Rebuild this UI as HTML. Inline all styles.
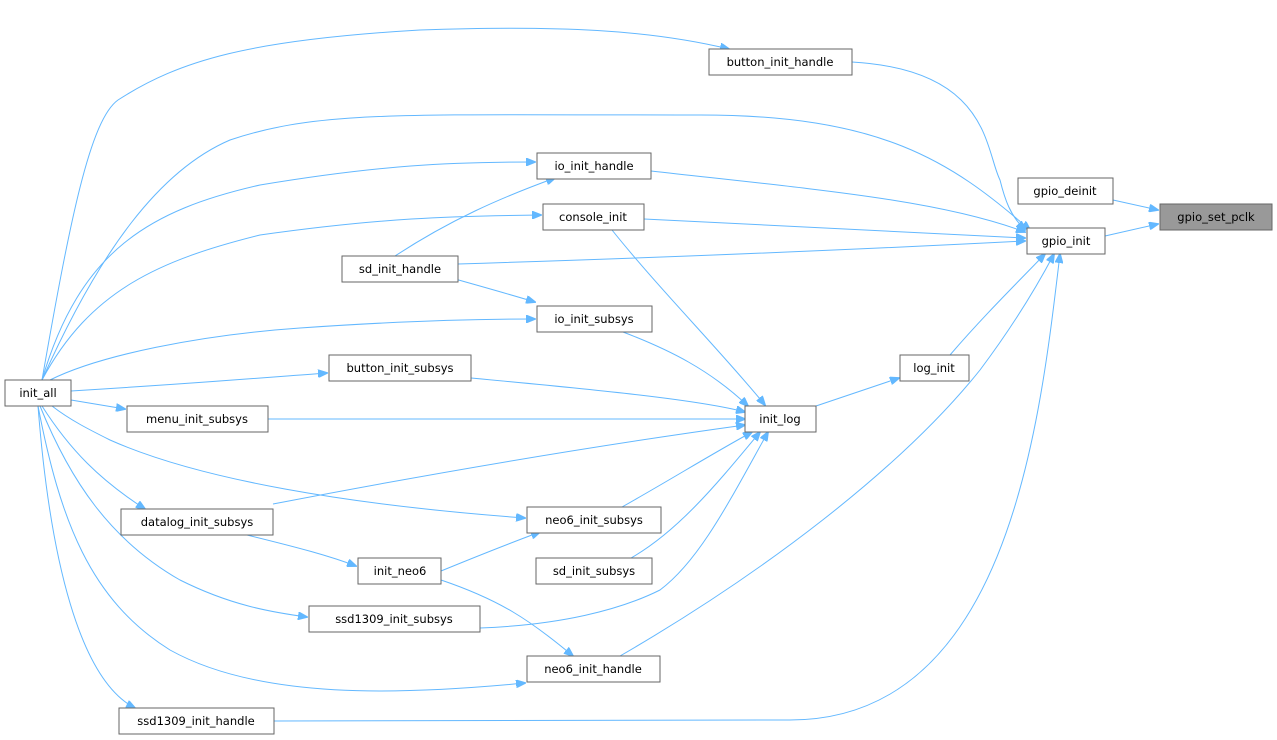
<!DOCTYPE html>
<html><head><meta charset="utf-8"><style>
html,body{margin:0;padding:0;background:#fff;}
svg{display:block;}
text{font-family:"DejaVu Sans","Liberation Sans",sans-serif;font-size:11.5px;fill:#000;}
.n{fill:#fff;stroke:#666;stroke-width:1;}
.e{fill:none;stroke:#63b8ff;stroke-width:1;}
</style></head><body>
<svg width="1277" height="740" viewBox="0 0 1277 740" xmlns="http://www.w3.org/2000/svg">
<defs><marker id="a" markerWidth="10" markerHeight="8" refX="9" refY="4" orient="auto" markerUnits="userSpaceOnUse"><path d="M0,0 L10,4 L0,8 z" fill="#63b8ff" stroke="#63b8ff"/></marker></defs>
<g class="e" marker-end="url(#a)">
<path d="M1113,200 L1158,210"/>
<path d="M1105,236 L1158,224"/>
<path d="M852,62 C990,70 985,150 1000,180 C1005,200 1010,215 1025,230"/>
<path d="M42,380 C70,220 90,120 118,100 C180,60 250,40 420,30 C560,25 650,30 729,49"/>
<path d="M42,380 C100,250 160,170 230,140 C320,110 400,115 700,115 C880,115 950,160 1030,230"/>
<path d="M651,171 C820,190 940,200 1025,232"/>
<path d="M644,219 C800,226 920,232 1025,238"/>
<path d="M458,264 C650,258 850,250 1025,241"/>
<path d="M950,355 C980,320 1010,290 1045,254"/>
<path d="M620,656 C760,575 900,470 980,370 C1010,330 1035,290 1054,254"/>
<path d="M274,721 C500,720 700,720 790,720 C1010,720 1040,420 1060,254"/>
<path d="M816,406 L899,378"/>
<path d="M42,380 C80,250 150,210 260,185 C380,165 450,162 535,162"/>
<path d="M395,256 C450,220 500,198 555,178"/>
<path d="M42,380 C90,290 160,260 260,235 C380,218 450,216 541,215"/>
<path d="M455,279 C480,286 505,293 535,302"/>
<path d="M50,380 C100,355 200,335 300,328 C400,321 470,319 535,319"/>
<path d="M612,230 C660,290 720,350 765,405"/>
<path d="M623,332 C670,350 710,370 748,406"/>
<path d="M471,378 C600,390 700,400 745,412"/>
<path d="M268,419 L745,419"/>
<path d="M273,504 C450,470 600,445 745,425"/>
<path d="M622,507 C670,480 710,455 752,432"/>
<path d="M631,558 C680,530 720,480 760,432"/>
<path d="M480,628 C560,625 620,610 660,590 C700,560 730,500 768,432"/>
<path d="M71,391 C200,383 260,378 327,373"/>
<path d="M71,400 L125,409"/>
<path d="M42,406 C70,450 100,480 145,509"/>
<path d="M52,406 C70,420 90,430 110,440 C200,480 350,505 525,518"/>
<path d="M40,406 C70,480 110,540 180,580 C230,605 270,612 307,617"/>
<path d="M38,406 C60,520 90,600 170,650 C260,700 400,695 525,683"/>
<path d="M38,406 C50,560 80,680 135,708"/>
<path d="M247,535 C300,548 330,556 356,566"/>
<path d="M441,571 C480,555 505,545 540,532"/>
<path d="M441,580 C500,600 530,620 573,656"/>
</g>
<g>
<rect x="1160" y="204" width="112" height="26" fill="#999" stroke="#666"/><text x="1216" y="221" text-anchor="middle">gpio_set_pclk</text>
<rect class="n" x="1018" y="178" width="95" height="26"/><text x="1065" y="195" text-anchor="middle">gpio_deinit</text>
<rect class="n" x="1027" y="228" width="78" height="26"/><text x="1066" y="245" text-anchor="middle">gpio_init</text>
<rect class="n" x="709" y="49" width="143" height="26"/><text x="780" y="66" text-anchor="middle">button_init_handle</text>
<rect class="n" x="537" y="153" width="114" height="26"/><text x="594" y="170" text-anchor="middle">io_init_handle</text>
<rect class="n" x="543" y="204" width="101" height="26"/><text x="593" y="221" text-anchor="middle">console_init</text>
<rect class="n" x="342" y="256" width="116" height="26"/><text x="400" y="273" text-anchor="middle">sd_init_handle</text>
<rect class="n" x="537" y="306" width="115" height="26"/><text x="594" y="323" text-anchor="middle">io_init_subsys</text>
<rect class="n" x="900" y="355" width="69" height="26"/><text x="934" y="372" text-anchor="middle">log_init</text>
<rect class="n" x="329" y="355" width="142" height="26"/><text x="400" y="372" text-anchor="middle">button_init_subsys</text>
<rect class="n" x="5" y="380" width="66" height="26"/><text x="38" y="397" text-anchor="middle">init_all</text>
<rect class="n" x="127" y="406" width="141" height="26"/><text x="197" y="423" text-anchor="middle">menu_init_subsys</text>
<rect class="n" x="745" y="406" width="71" height="26"/><text x="780" y="423" text-anchor="middle">init_log</text>
<rect class="n" x="121" y="509" width="152" height="26"/><text x="197" y="526" text-anchor="middle">datalog_init_subsys</text>
<rect class="n" x="527" y="507" width="134" height="26"/><text x="594" y="524" text-anchor="middle">neo6_init_subsys</text>
<rect class="n" x="358" y="558" width="83" height="26"/><text x="400" y="575" text-anchor="middle">init_neo6</text>
<rect class="n" x="536" y="558" width="116" height="26"/><text x="594" y="575" text-anchor="middle">sd_init_subsys</text>
<rect class="n" x="309" y="606" width="171" height="26"/><text x="394" y="623" text-anchor="middle">ssd1309_init_subsys</text>
<rect class="n" x="527" y="656" width="133" height="26"/><text x="593" y="673" text-anchor="middle">neo6_init_handle</text>
<rect class="n" x="119" y="708" width="155" height="26"/><text x="196" y="725" text-anchor="middle">ssd1309_init_handle</text>
</g>
</svg>
</body></html>
